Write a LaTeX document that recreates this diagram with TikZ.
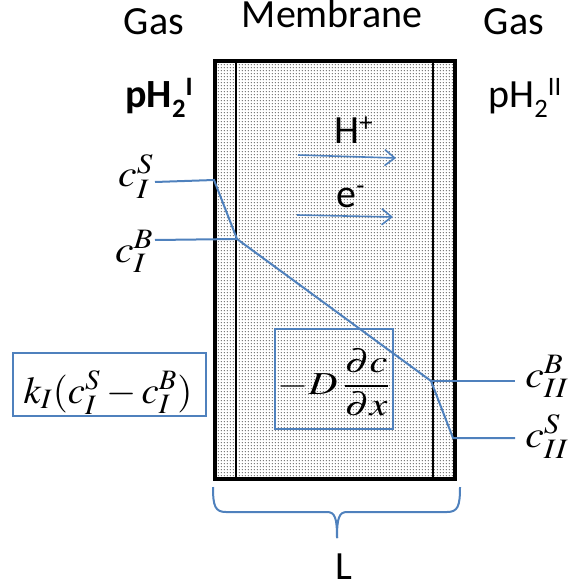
\documentclass[tikz,border=0pt]{standalone}
\usepackage{graphicx}
\usepackage{mathptmx}
\usepackage[no-math]{fontspec}
\setmainfont{Carlito}
\usetikzlibrary{arrows.meta,patterns.meta}
\definecolor{lineblue}{RGB}{79,129,189}
\pgfdeclarepattern{
  name=finedots,
  type=uncolored,
  bottom left={\pgfpoint{0pt}{0pt}},
  top right={\pgfpoint{1.6pt}{1.6pt}},
  tile size={\pgfpoint{1.6pt}{1.6pt}},
  code={\pgfpathcircle{\pgfpoint{0.8pt}{0.8pt}}{0.34pt}\pgfusepath{fill}}
}
\newcommand{\wideeq}[1]{\scalebox{1.1}[1]{#1}}
\newcommand{\lowidx}[1]{\raisebox{-5pt}{\fontsize{13.3}{14}\selectfont #1}}
\newcommand{\highidx}[1]{\raisebox{6pt}{\fontsize{13.3}{14}\selectfont #1}}
\tikzset{
  wall/.style={
    draw,
    line width = 1.8pt,
    inner sep = 0pt
  },
  layer/.style={
    line width = 0.9pt
  },
  profile/.style={
    lineblue,
    line width = 1pt
  },
  fluxbox/.style={
    draw = lineblue,
    line width = 1pt,
    inner sep = 0pt
  },
  word/.style={
    font = \fontsize{20}{24}\selectfont,
    inner sep = 0pt
  },
  conc/.style={
    font = \fontsize{19}{22}\selectfont,
    inner sep = 0pt
  },
  carrier/.style={
    lineblue,
    line width = 0.8pt,
    -{Straight Barb[length=5pt,width=8pt]}
  }
}

\begin{document}
\begin{tikzpicture}[x=0.5pt,y=-0.5pt]
    \useasboundingbox (0,0) rectangle (571,588);
    % membrane with its two boundary layers
    \node[wall, pattern=finedots, pattern color=black!70, minimum width=120pt, minimum height=209pt] (mem) at (335,270) {};
    \draw[layer] ([xshift=11.5pt]mem.north west) -- ([xshift=11.5pt]mem.south west);
    \draw[layer] ([xshift=-12pt]mem.north east) -- ([xshift=-12pt]mem.south east);
    % headings
    \node[word, anchor=base] (gasleft) at (154,35) {Gas};
    \node[word, anchor=base] (memtitle) at (332,28) {Membrane};
    \node[word, anchor=base] (gasright) at (514,35) {Gas};
    \node[word, anchor=base west] (pleft) at (125,108) {\textbf{pH\lowidx{2}\highidx{I}}};
    \node[word, anchor=base west] (pright) at (488,108) {pH\lowidx{2}\highidx{II}};
    % charge carriers
    \node[word, anchor=base west] (proton) at (334,144) {H\highidx{+}};
    \node[word, anchor=base west] (electron) at (336,207) {e\highidx{-}};
    \coordinate (hstart) at (298,155);
    \coordinate (hend) at (396,158);
    \coordinate (estart) at (297,215);
    \coordinate (eend) at (393,217);
    \draw[carrier] (hstart) -- (hend);
    \draw[carrier] (estart) -- (eend);
    % concentration profile
    \coordinate (sI) at (214,180);
    \coordinate (bI) at (237,239);
    \coordinate (bII) at (431,381);
    \coordinate (sII) at (453,438);
    \node[conc, anchor=base east] (cIS) at (154,187) {\wideeq{$c_I^S$}};
    \node[conc, anchor=base east] (cIB) at (154,262) {\wideeq{$c_I^B$}};
    \node[conc, anchor=base west] (cIIB) at (525,387) {\wideeq{$c_{II}^B$}};
    \node[conc, anchor=base west] (cIIS) at (525,447) {\wideeq{$c_{II}^S$}};
    \coordinate (tIS) at (155,182);
    \coordinate (tIB) at (155,240);
    \coordinate (tIIB) at (515,381);
    \coordinate (tIIS) at (515,438);
    \draw[profile] (tIS) -- (sI) -- (bI) -- (bII) -- (sII) -- (tIIS);
    \draw[profile] (tIB) -- (bI);
    \draw[profile] (bII) -- (tIIB);
    % fluxes
    \node[fluxbox, minimum width=96.5pt, minimum height=31.5pt] (kbox) at (109.5,384.5) {};
    \node[conc, anchor=base] (kflux) at (108,403) {\scalebox{1.02}[1]{$k_I(c_I^S-c_I^B)$}};
    \node[fluxbox, minimum width=59pt, minimum height=50pt] (dbox) at (334,379) {};
    \node[conc, anchor=base, font=\fontsize{16}{18}\selectfont] (dflux) at (334,394) {\scalebox{1.25}[1]{$\displaystyle -D\,\frac{\partial c}{\partial x}$}};
    % thickness
    \coordinate (bl) at (213,487);
    \coordinate (br) at (460,487);
    \coordinate (btip) at (337,538);
    \draw[profile] (bl) .. controls (213,506) and (215,512) .. (226,512) -- (327,512) .. controls (335,512) and (337,518) .. (btip);
    \draw[profile] (br) .. controls (460,506) and (458,512) .. (447,512) -- (347,512) .. controls (339,512) and (337,518) .. (btip);
    \node[word] (thick) at (344,567) {L};
\end{tikzpicture}
\end{document}
